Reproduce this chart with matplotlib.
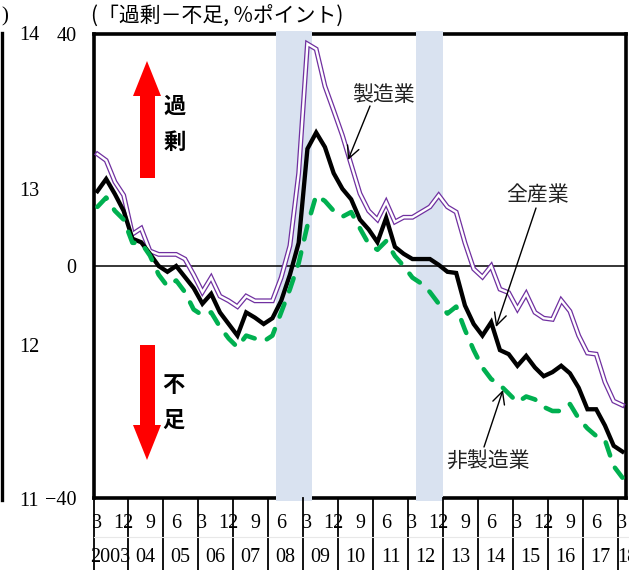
import matplotlib
matplotlib.use('Agg')
import matplotlib.pyplot as plt
from matplotlib.patches import Polygon, Rectangle
from matplotlib.lines import Line2D
import matplotlib.transforms as mtrans

# ---------------- data ----------------
quarters = list(range(61))  # 2003Q1 (Mar) ... 2018Q1 (Mar)

manufacturing = [19.3, 18.2, 14.5, 12.2, 5.5, 6.5, 2.6, 2.0, 2.0, 2.0,
                 1.2, -1.5, -4.5, -2.0, -5.2, -6.0, -7.0, -5.2, -6.0, -6.0,
                 -6.0, -2.0, 3.5, 16.0, 38.3, 37.4, 31.0, 26.8, 22.5, 17.5,
                 12.5, 9.5, 8.0, 11.0, 7.6, 8.4, 8.4, 9.3, 10.2, 12.2,
                 10.2, 9.3, 4.0, -0.5, -1.9, 0.0, -4.0, -4.6, -7.4, -4.8,
                 -8.0, -9.0, -9.2, -5.9, -7.8, -12.0, -15.0, -15.2, -20.0, -23.3,
                 -24.0]

all_industries = [12.9, 15.0, 12.4, 9.5, 4.7, 4.1, 2.1, 0.0, -1.0, 0.0,
                  -1.9, -3.8, -6.5, -4.8, -8.0, -10.0, -12.0, -8.0, -8.9, -10.0,
                  -9.0, -6.0, -1.5, 4.0, 20.2, 23.0, 20.5, 16.0, 13.3, 11.5,
                  8.0, 6.3, 4.1, 8.3, 3.3, 2.1, 1.2, 1.2, 1.2, 0.2,
                  -1.0, -1.2, -6.8, -10.0, -12.0, -9.7, -14.5, -15.2, -17.2, -15.5,
                  -17.5, -19.0, -18.3, -17.2, -18.5, -21.0, -24.7, -24.7, -27.5, -31.0,
                  -32.0]

non_manufacturing = [10.2, 11.8, 9.5, 8.0, 4.0, 4.0, 1.8, -1.5, -3.5, -2.5,
                     -4.5, -7.5, -8.5, -8.0, -10.5, -12.5, -14.0, -12.0, -12.5, -13.0,
                     -12.0, -8.0, -4.0, 0.5, 7.0, 12.2, 11.2, 9.5, 8.5, 9.3,
                     6.5, 3.8, 2.8, 4.3, 1.7, 0.0, -2.0, -3.0, -4.5, -6.5,
                     -8.2, -7.0, -11.0, -14.5, -17.5, -19.5, -20.5, -22.0, -23.5, -22.5,
                     -23.0, -24.3, -25.0, -25.0, -23.8, -26.3, -28.0, -29.3, -30.0, -34.5,
                     -36.5]

month_labels = ['3', '12', '9', '6']
year_labels = ['2003', '04', '05', '06', '07', '08', '09', '10', '11', '12',
               '13', '14', '15', '16', '17', '18']
recession_bands = [(20.4, 24.5), (36.4, 39.5)]
y_ticks = [-40, 0, 40]
y_ticklabels = ['\u221240', '0', '40']
left_axis_labels = ['14', '13', '12', '11']

# ---------------- figure ----------------
W, H = 629, 570
fig = plt.figure(figsize=(W / 100, H / 100), dpi=100)

def fx(x):
    return x / W

def fy(y):
    return 1 - y / H

SERIF = 'Liberation Serif'
JP = 'Noto Sans CJK JP'

ax = fig.add_axes([fx(94), fy(498), fx(625.5) - fx(94), fy(34) - fy(498)])
ax.set_xlim(-0.39, 60.35)
ax.set_ylim(-40, 40)

for s in ax.spines.values():
    s.set_linewidth(2.6)
    s.set_color('black')

# recession bands covering the spines
bt = mtrans.blended_transform_factory(ax.transData, ax.transAxes)
for x0, x1 in recession_bands:
    ax.add_patch(Rectangle((x0, -0.006), x1 - x0, 1.012, transform=bt,
                           facecolor='#D9E2F0', edgecolor='none',
                           zorder=3, clip_on=False))

ax.axhline(0, color='black', lw=1.1, zorder=3.5)

# manufacturing: double purple line
ax.plot(quarters, manufacturing, color='#7030A0', lw=3.5, zorder=4,
        solid_joinstyle='miter')
ax.plot(quarters, manufacturing, color='white', lw=1.7, zorder=4.1,
        solid_joinstyle='miter')
# all industries
ax.plot(quarters, all_industries, color='black', lw=3.1, zorder=5,
        solid_joinstyle='miter')
# non-manufacturing
ln, = ax.plot(quarters, non_manufacturing, color='#00B050', lw=3.3, zorder=6,
              dash_capstyle='round', solid_capstyle='round')
ln.set_dashes([3.0, 2.9])

ax.set_xticks([])
ax.set_yticks(y_ticks)
ax.set_yticklabels(y_ticklabels, fontfamily=SERIF, fontsize=14.5)
ax.tick_params(axis='y', length=0, pad=12.5)

# x-axis: month labels, year labels, separators
xb = mtrans.blended_transform_factory(ax.transData, fig.transFigure)
for k, i in enumerate(range(0, 61, 3)):
    ax.text(i, fy(523), month_labels[k % 4], transform=xb, ha='center',
            va='center', fontsize=14.5, fontfamily=SERIF, zorder=3)
for k, lab in enumerate(year_labels):
    xc = 1.5 + 4 * k if k < 15 else 60.55
    ax.text(xc, fy(557), lab, transform=xb, ha='center', va='center',
            fontsize=14.5, fontfamily=SERIF, zorder=3)
bounds = [-0.39] + [3.5 + 4 * k for k in range(15)]
for b in bounds:
    ax.plot([b, b], [fy(498), 0], transform=xb, color='black', lw=1.3,
            clip_on=False, zorder=4)
fig.add_artist(Line2D([fx(94), 1], [fy(537), fy(537)], color='#e8e8e8', lw=0.8))

# left remnants of neighbouring chart
fig.add_artist(Line2D([fx(1.5), fx(1.5)], [fy(33), fy(500)], color='black', lw=2.4))
fig.text(fx(8), fy(17), ')', ha='right', va='center', fontsize=15, fontfamily=SERIF)
for lab, yy in zip(left_axis_labels, [35, 192, 347, 502]):
    fig.text(fx(29), fy(yy), lab, ha='center', va='center', fontsize=14.5,
             fontfamily=SERIF)

# title
fig.text(fx(91), fy(17), '(「過剰－不足, %ポイント)', ha='left', va='center',
         fontsize=15, fontfamily=JP)

# red arrows
up = [(147, 61), (161, 96), (155, 96), (155, 178), (140, 178), (140, 96), (133, 96)]
down = [(140, 345), (155, 345), (155, 425), (161, 425), (147, 460), (133, 425), (140, 425)]
for pts in (up, down):
    fig.add_artist(Polygon([(fx(a), fy(b)) for a, b in pts], closed=True,
                           facecolor='#FF0000', edgecolor='none',
                           transform=fig.transFigure))
for ch, (xx, yy) in zip(['過', '剰', '不', '足'],
                        [(175, 106), (175, 142), (173, 385), (173, 420)]):
    fig.text(fx(xx), fy(yy), ch, ha='center', va='center', fontsize=16,
             fontweight='bold', fontfamily=JP)

# annotations
annots = [('製造業', (383, 95), (370, 106), (348, 160)),
          ('全産業', (538, 195), (536, 208), (496, 327)),
          ('非製造業', (488, 462), (484, 447), (503, 390))]
for txt, (tx, ty), (sx, sy), (ex, ey) in annots:
    fig.text(fx(tx), fy(ty), txt, ha='center', va='center', fontsize=15,
             fontfamily=JP, color='#222222')
    ax.annotate('', xy=(fx(ex), fy(ey)), xycoords='figure fraction',
                xytext=(fx(sx), fy(sy)), textcoords='figure fraction',
                arrowprops=dict(arrowstyle='->', lw=1.0, color='black',
                                shrinkA=0, shrinkB=0, mutation_scale=22),
                zorder=7, annotation_clip=False)

fig.savefig('out.png', dpi=100)
